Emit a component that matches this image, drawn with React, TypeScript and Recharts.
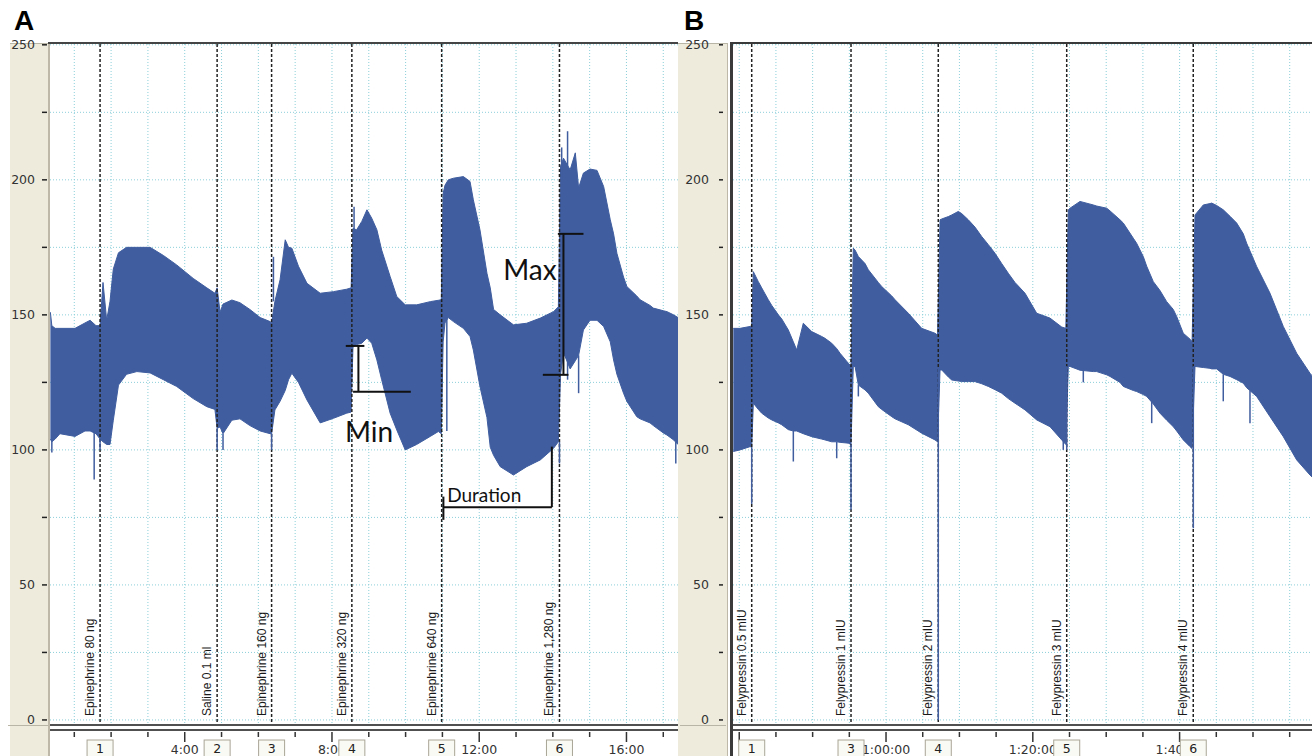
import React from 'react';
import {
  ComposedChart,
  Area,
  XAxis,
  YAxis,
  CartesianGrid,
  ReferenceLine,
  ReferenceDot,
} from 'recharts';

// ── Data: panel A (epinephrine), time in minutes, [t, diastolic, systolic] ─────

const bandA: [number, number, number][] = [
  [0.35, 104, 151], [0.39, 103, 146], [0.48, 104, 145], [0.61, 106, 145],
  [1.02, 105, 145], [1.29, 107, 147], [1.43, 107, 148], [1.59, 106, 146],
  [1.70, 104, 146], [1.78, 103, 162], [1.88, 102, 148], [1.97, 102, 155],
  [2.06, 111, 167], [2.20, 124, 173], [2.42, 128, 175], [2.70, 129, 175],
  [3.06, 128.5, 175], [3.42, 126, 172], [3.78, 123.5, 168.5], [4.23, 119, 163.5],
  [4.60, 116, 160], [4.82, 115, 158], [4.88, 108, 160], [4.96, 108.5, 151],
  [5.04, 106, 154], [5.28, 111, 155.5], [5.50, 111.5, 154.5], [5.77, 109, 152],
  [6.05, 107, 149], [6.32, 106, 147.5], [6.36, 106, 147], [6.45, 114.8, 155],
  [6.59, 118, 163], [6.73, 122, 177.8], [6.82, 126, 175], [6.91, 128.4, 174.7],
  [7.09, 125, 168], [7.32, 118.5, 161.7], [7.68, 110, 158], [8.04, 111.7, 158.6],
  [8.40, 113.6, 159.5], [8.52, 114, 160], [8.57, 138, 182], [8.67, 139, 181.5],
  [8.81, 139.5, 184.6], [8.95, 141.4, 188.9], [9.08, 139.5, 185.8], [9.22, 133.3, 181.5],
  [9.35, 126, 174], [9.58, 113.6, 164.2], [9.76, 107.4, 156.8], [9.99, 100, 153.7],
  [10.30, 102, 153.7], [10.67, 105, 154.9], [10.89, 106.8, 155.4], [10.97, 106, 155.6],
  [11.02, 140, 195], [11.07, 147, 198], [11.16, 149, 200], [11.30, 147.5, 200.6],
  [11.57, 145, 201.2], [11.75, 142, 199.4], [11.84, 137, 192.6], [12.02, 123.5, 181.5],
  [12.21, 112, 165.4], [12.30, 101, 160], [12.39, 98, 152], [12.57, 93.8, 150],
  [12.93, 90.7, 146.3], [13.29, 93.8, 146.9], [13.66, 96.3, 148.8], [14.02, 100.6, 151.2],
  [14.15, 103, 153], [14.21, 128, 205], [14.29, 136, 208], [14.47, 130, 203.7],
  [14.61, 133, 210], [14.70, 135, 197], [14.83, 144.4, 202.5], [15.01, 148, 204],
  [15.20, 148, 203.5], [15.38, 145.7, 197.5], [15.56, 140, 185.2], [15.65, 133.3, 180],
  [15.74, 128, 172.8], [15.92, 121, 164], [16.01, 118, 160.5], [16.28, 112.3, 157],
  [16.37, 111.5, 155.6], [16.64, 110, 153.5], [16.73, 109, 152.5], [17.01, 106.2, 151.5],
  [17.10, 105.5, 151.2], [17.28, 103.7, 150], [17.40, 102, 149],
];

// thin single-beat excursions: [t, from, to]
const spikesA: [number, number, number][] = [
  [0.39, 99, 104], [1.54, 89, 107], [1.70, 100, 104], [4.88, 100, 108],
  [5.04, 100, 106], [6.36, 100, 106], [6.41, 155, 171.5], [8.60, 160, 190],
  [11.12, 107, 149], [14.18, 95, 103], [14.24, 200, 212], [14.40, 205, 218],
  [14.40, 126, 133], [14.70, 121, 135], [17.34, 95, 103],
];

const eventsA = [1.70, 4.88, 6.36, 8.54, 10.98, 14.18];
const eventNamesA = [
  'Epinephrine 80 ng', 'Saline 0.1 ml', 'Epinephrine 160 ng',
  'Epinephrine 320 ng', 'Epinephrine 640 ng', 'Epinephrine 1,280 ng',
];
const eventNumsA = ['1', '2', '3', '4', '5', '6'];
const ticksA = [1, 2, 3, 4, 5, 6, 7, 8, 9, 10, 11, 12, 13, 14, 15, 16, 17];
const majorTicksA = [4, 8, 12, 16];
const tickLabelsA: Record<number, string> = { 4: '4:00', 8: '8:00', 12: '12:00', 16: '16:00' };

// ── Data: panel B (felypressin) ───────────────────────────────────────────────

const bandB: [number, number, number][] = [
  [39.19, 99.4, 145], [40.11, 100, 145], [41.47, 101.2, 145.7], [41.70, 101, 146],
  [41.92, 117.3, 166], [42.60, 115, 162.3], [43.06, 113.6, 160], [43.96, 111.8, 155.6],
  [44.43, 111.1, 153.5], [45.33, 110, 150], [45.79, 109.3, 148.5], [46.69, 107.5, 144.4],
  [47.37, 107, 140], [47.83, 107, 137], [48.73, 106, 146.9], [49.88, 104.9, 143.8],
  [51.24, 104, 142], [51.69, 103.7, 141.3], [52.60, 103, 139.5], [53.28, 103, 137.5],
  [53.73, 102.8, 135.8], [54.86, 102.5, 132.1], [55.23, 102, 131], [55.54, 130.9, 174.7],
  [55.78, 130.9, 174], [56.23, 124, 171.6], [57.14, 122.2, 169], [57.59, 121, 166.7],
  [58.95, 116, 162], [59.41, 115, 160.5], [60.78, 112.3, 157], [61.23, 111.5, 155.6],
  [63.04, 109.3, 150.6], [64.86, 106.2, 145], [66.67, 103.7, 143.2], [67.02, 103, 142.5],
  [67.36, 129.6, 185.2], [67.59, 129.6, 185.5], [68.49, 127, 186.4], [68.95, 125.9, 187],
  [69.85, 125.5, 188.3], [70.31, 125.3, 187.5], [71.21, 125.3, 185.2], [72.12, 125.3, 182.5],
  [73.04, 124.5, 179], [73.94, 123.5, 176], [74.85, 122.3, 172.8], [75.76, 121, 169],
  [76.66, 119, 165.4], [77.57, 117.3, 162], [78.94, 114.8, 158], [80.53, 111.1, 150.6],
  [82.34, 108.6, 148.8], [83.94, 103.7, 145.5], [84.50, 102, 145], [84.84, 130.9, 188.9],
  [85.07, 130.9, 189.5], [86.43, 129.5, 192], [88.24, 129, 190.7], [88.70, 129, 190.3],
  [90.07, 127.8, 189.5], [90.52, 127.2, 188.5], [91.88, 125, 185.2], [92.33, 123.5, 184],
  [93.69, 122, 178.4], [94.15, 121.6, 176.5], [95.05, 120.5, 171.6], [95.52, 119.8, 168],
  [96.42, 117, 162.3], [97.33, 113.6, 159], [98.24, 111, 154.9], [99.14, 108.6, 152],
  [99.60, 107, 149.4], [100.50, 103.7, 143.2], [101.42, 101.2, 141], [101.70, 100.5, 140.1],
  [102.10, 130.9, 187], [103.23, 130.5, 190.7], [104.14, 130.2, 191.2], [104.37, 130, 191.4],
  [105.05, 130, 190.5], [105.95, 128, 188.9], [106.87, 127.2, 186.5], [107.78, 126, 184],
  [108.68, 124.7, 180], [109.14, 123, 176.5], [110.50, 119.8, 167.9], [112.32, 112.3, 158],
  [114.13, 104.9, 145.7], [115.95, 96.3, 135.8], [117.76, 90.7, 128.4], [118.04, 90, 127.5],
];

const spikesB: [number, number, number][] = [
  [41.70, 80, 101], [47.37, 95.7, 107], [53.28, 96.9, 103], [55.23, 77.8, 102],
  [56.23, 119.8, 124], [67.12, 0, 130], [84.15, 100, 104], [84.62, 100, 131],
  [86.88, 125, 129.5], [96.20, 109.9, 119], [101.87, 71, 131], [105.95, 118, 128],
  [109.59, 109.9, 122],
];

const eventsB = [41.70, 55.23, 67.12, 84.62, 101.86];
const eventNamesB = [
  'Felypressin 0.5 mIU', 'Felypressin 1 mIU', 'Felypressin 2 mIU',
  'Felypressin 3 mIU', 'Felypressin 4 mIU',
];
const eventNumsB = ['1', '3', '4', '5', '6'];
const ticksB = [40, 45, 50, 55, 60, 65, 70, 75, 80, 85, 90, 95, 100, 105, 110, 115];
const majorTicksB = [40, 60, 80, 100];
const tickLabelsB: Record<number, string> = { 60: '1:00:00', 80: '1:20:00', 100: '1:40:00' };

const yTicks = [0, 25, 50, 75, 100, 125, 150, 175, 200, 225, 250];

// annotation brackets in panel A: [[t1, v1], [t2, v2]]
const minBracket = [
  [[8.375, 138.5], [8.88, 138.5]],
  [[8.718, 138.5], [8.718, 121.5]],
  [[8.573, 121.5], [10.141, 121.5]],
];
const maxBracket = [
  [[14.136, 180], [14.832, 180]],
  [[14.288, 180], [14.288, 127.8]],
  [[13.728, 127.8], [14.424, 127.8]],
];
const durationBracket = [
  [[11.027, 78.8], [13.973, 78.8]],
  [[11.027, 82.7], [11.027, 74.1]],
  [[13.973, 101.2], [13.973, 78.8]],
];
const notes = [
  { t: 8.356, v: 103, text: 'Min', size: 28 },
  { t: 12.65, v: 163, text: 'Max', size: 28 },
  { t: 11.13, v: 80.7, text: 'Duration', size: 19 },
];

// ── Styling ───────────────────────────────────────────────────────────────────

const BLUE = '#3f5d9f';
const GRID = '#8ccfd9';
const BEIGE = '#eeebdd';
const AXIS_FONT = 'DejaVu Sans, Verdana, sans-serif';
const LABEL_FONT = 'Liberation Sans, Arial, sans-serif';

const makeYTick = (dashFar: number, dashNear: number, gap: number) => (p: any) => {
  const { x, y, payload } = p;
  const v = payload.value;
  return (
    <g>
      <line x1={x - dashFar} x2={x - dashNear} y1={y} y2={y} stroke="#222" strokeWidth={1.5} />
      {v % 50 === 0 && (
        <text x={x - gap} y={y + 4.5} textAnchor="end" fontSize={12.5} fontFamily={AXIS_FONT} fill="#333">
          {v}
        </text>
      )}
    </g>
  );
};

// one axis carries both the time ticks and, listed after them, the numbered
// injection boxes so the boxes are painted over the time labels
const makeXTick = (majors: number[], labels: Record<number, string>, events: number[], nums: string[]) => (p: any) => {
  const { x, y, payload } = p;
  const v = payload.value;
  const ev = events.indexOf(v);
  if (ev >= 0) {
    return (
      <g>
        <rect x={x - 13} y={y + 16} width={26} height={18} fill="#fafaf4" stroke="#a9a596" />
        <text x={x} y={y + 29} textAnchor="middle" fontSize={12.5} fontFamily={AXIS_FONT} fill="#222">
          {nums[ev]}
        </text>
      </g>
    );
  }
  const major = majors.includes(v);
  return (
    <g>
      <line x1={x} x2={x} y1={y + 8} y2={y + (major ? 18 : 13)} stroke="#333" strokeWidth={1.5} />
      {labels[v] && (
        <text x={x} y={y + 30} textAnchor="middle" fontSize={12.5} fontFamily={AXIS_FONT} fill="#333">
          {labels[v]}
        </text>
      )}
    </g>
  );
};

// dashed injection marker with rotated caption
const eventShape = (name: string) => (p: any) => {
  const x = p.x1;
  const top = Math.min(p.y1, p.y2);
  const bottom = Math.max(p.y1, p.y2);
  return (
    <g>
      <line x1={x} x2={x} y1={top} y2={bottom} stroke="#222" strokeWidth={1.5} strokeDasharray="3 2" />
      <text
        transform={`translate(${x - 6},${bottom - 8}) rotate(-90)`}
        fontSize={12}
        fontFamily={LABEL_FONT}
        fill="#1a1a1a"
      >
        {name}
      </text>
    </g>
  );
};

const noteShape = (text: string, size: number) => (p: any) => (
  <text x={p.cx} y={p.cy} fontSize={size} fontFamily="Lato, sans-serif" fill="#111">
    {text}
  </text>
);

interface PanelProps {
  band: [number, number, number][];
  spikes: [number, number, number][];
  events: number[];
  names: string[];
  nums: string[];
  ticks: number[];
  majors: number[];
  labels: Record<number, string>;
  domain: [number, number];
  width: number;
  yAxisWidth: number;
  yTick: (p: any) => React.ReactElement;
  annotate?: boolean;
}

function Panel(props: PanelProps) {
  const { band, spikes, events, names, nums, ticks, majors, labels, domain, width, yAxisWidth, yTick, annotate } = props;
  const data = band.map(([t, lo, hi]) => ({ t, bp: [lo, hi] }));
  const brackets = annotate ? [...minBracket, ...maxBracket, ...durationBracket] : [];

  return (
    <ComposedChart width={width} height={756} data={data} margin={{ top: 44, right: 0, bottom: 0, left: 0 }}>
      <CartesianGrid stroke={GRID} strokeDasharray="1 2" verticalValues={ticks} horizontalValues={yTicks} />
      <YAxis
        type="number"
        domain={[-1.5, 250.3]}
        allowDataOverflow
        ticks={yTicks}
        interval={0}
        width={yAxisWidth}
        axisLine={false}
        tickLine={false}
        tickSize={0}
        tickMargin={0}
        tick={yTick}
      />
      <XAxis
        dataKey="t"
        type="number"
        domain={domain}
        allowDataOverflow
        ticks={[...ticks, ...events]}
        interval={0}
        height={32}
        axisLine={false}
        tickLine={false}
        tickSize={0}
        tickMargin={0}
        tick={makeXTick(majors, labels, events, nums)}
      />
      <Area
        dataKey="bp"
        type="linear"
        stroke={BLUE}
        strokeWidth={1}
        fill={BLUE}
        fillOpacity={1}
        dot={false}
        activeDot={false}
        isAnimationActive={false}
      />
      {events.map((t, i) => (
        <ReferenceLine key={`ev${i}`} x={t} shape={eventShape(names[i])} />
      ))}
      {spikes.map(([t, a, b], i) => (
        <ReferenceLine
          key={`sp${i}`}
          segment={[{ x: t, y: a }, { x: t, y: b }]}
          stroke={BLUE}
          strokeWidth={1.5}
        />
      ))}
      {brackets.map((s, i) => (
        <ReferenceLine
          key={`br${i}`}
          segment={[{ x: s[0][0], y: s[0][1] }, { x: s[1][0], y: s[1][1] }]}
          stroke="#111"
          strokeWidth={2}
        />
      ))}
      {annotate &&
        notes.map((n, i) => (
          <ReferenceDot key={`nt${i}`} x={n.t} y={n.v} r={1} shape={noteShape(n.text, n.size)} />
        ))}
    </ComposedChart>
  );
}

const abs = (left: number, top: number, width: number, height: number, background: string): React.CSSProperties => ({
  position: 'absolute', left, top, width, height, background,
});

export default function App() {
  return (
    <div style={{ position: 'fixed', left: 0, top: 0, width: 1312, height: 756, overflow: 'hidden', background: '#fff' }}>
      {/* beige axis strips */}
      <div style={abs(10, 43, 38, 713, BEIGE)} />
      <div style={abs(678, 43, 50, 713, BEIGE)} />
      <div style={abs(10, 43, 38, 1, '#b9b5a6')} />
      <div style={abs(678, 43, 50, 1, '#b9b5a6')} />
      <div style={abs(8, 725, 40, 1, '#b9b5a6')} />
      <div style={abs(680, 725, 46, 1, '#b9b5a6')} />

      <div style={{ position: 'absolute', left: 0, top: 0 }}>
        <Panel
          band={bandA}
          spikes={spikesA}
          events={eventsA}
          names={eventNamesA}
          nums={eventNumsA}
          ticks={ticksA}
          majors={majorTicksA}
          labels={tickLabelsA}
          domain={[0.34, 17.4]}
          width={678}
          yAxisWidth={50}
          yTick={makeYTick(8, 3, 15)}
          annotate
        />
      </div>
      <div style={{ position: 'absolute', left: 680, top: 0 }}>
        <Panel
          band={bandB}
          spikes={spikesB}
          events={eventsB}
          names={eventNamesB}
          nums={eventNumsB}
          ticks={ticksB}
          majors={majorTicksB}
          labels={tickLabelsB}
          domain={[39.15, 118.04]}
          width={632}
          yAxisWidth={53}
          yTick={makeYTick(14, 10, 24)}
        />
      </div>

      {/* plot frames */}
      <div style={abs(48, 43, 2, 713, '#bdb8a8')} />
      <div style={abs(48, 42, 630, 2, '#454545')} />
      <div style={abs(50, 724, 628, 2, '#505050')} />
      <div style={abs(50, 729, 628, 2, '#505050')} />
      <div style={abs(727, 43, 1, 713, '#bdb8a8')} />
      <div style={abs(730, 42, 3, 714, '#3a3a3a')} />
      <div style={abs(730, 42, 582, 2, '#3a3a3a')} />
      <div style={abs(733, 724, 579, 2, '#505050')} />
      <div style={abs(733, 729, 579, 2, '#505050')} />

      <div style={{ position: 'absolute', left: 14, top: 5, fontFamily: LABEL_FONT, fontWeight: 700, fontSize: 28, lineHeight: '32px' }}>A</div>
      <div style={{ position: 'absolute', left: 684, top: 5, fontFamily: LABEL_FONT, fontWeight: 700, fontSize: 28, lineHeight: '32px' }}>B</div>
    </div>
  );
}
